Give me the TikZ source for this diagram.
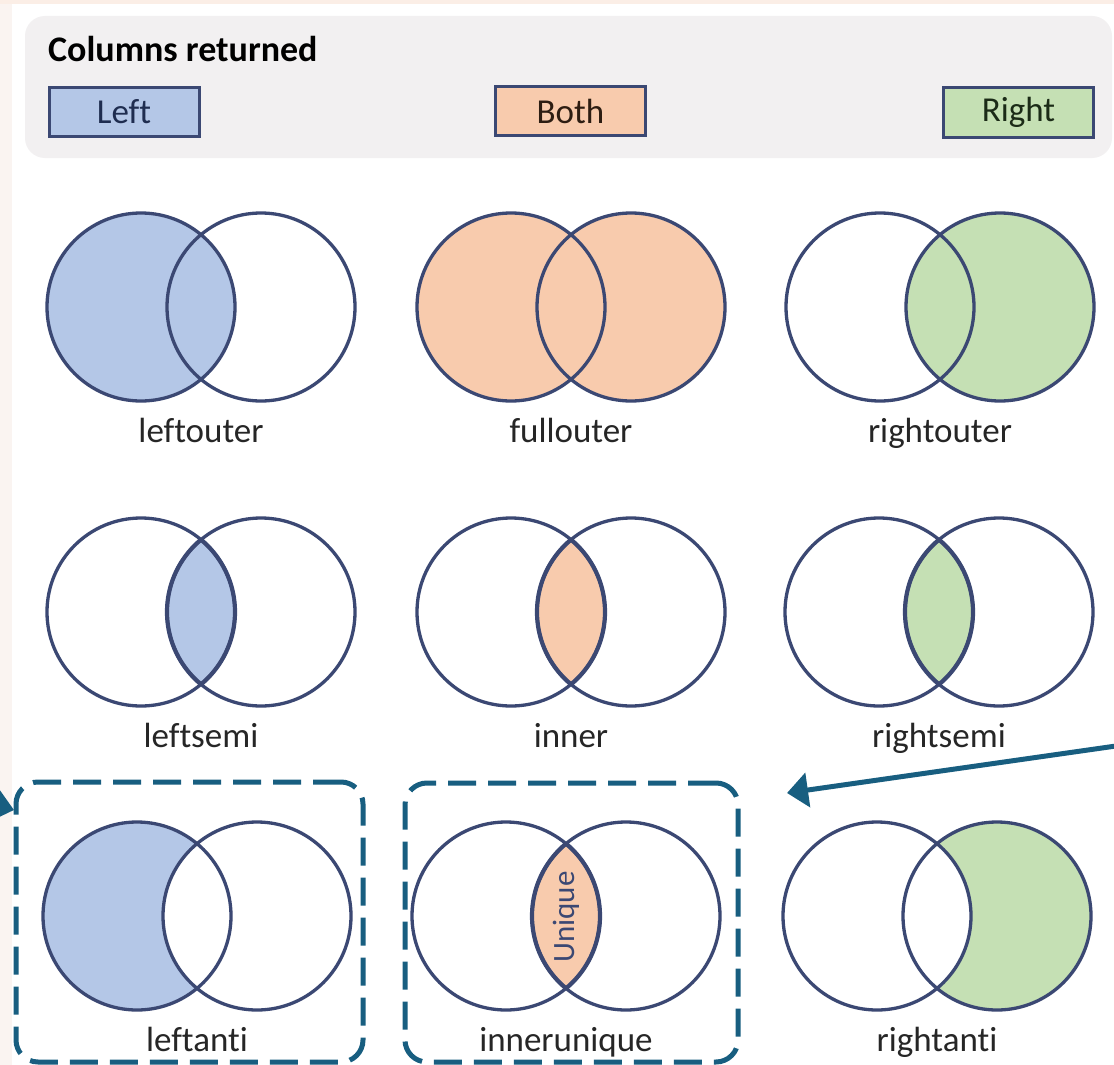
\documentclass[tikz,border=0pt]{standalone}
\usepackage{fontspec}
\setmainfont{Carlito}[Ligatures=NoCommon]
\usetikzlibrary{arrows.meta,calc}

\definecolor{navy}{RGB}{59,72,115}
\definecolor{leftfill}{HTML}{B4C7E7}
\definecolor{bothfill}{HTML}{F8CBAD}
\definecolor{rightfill}{HTML}{C5E0B4}
\definecolor{teal}{RGB}{24,94,128}
\definecolor{panelgray}{HTML}{F2F0F1}
\definecolor{labelgray}{HTML}{262626}
\definecolor{edgetint}{HTML}{FAF4F1}
\definecolor{toptint}{HTML}{FBEEE6}
\definecolor{lefttext}{HTML}{1F2D50}
\definecolor{bothtext}{HTML}{2D1D12}
\definecolor{righttext}{HTML}{1B2B17}

\tikzset{
  vc/.style={circle, draw=navy, line width=3.3pt, minimum size=188pt, inner sep=0pt},
  vlabel/.style={anchor=base, text=labelgray, inner sep=0pt,
    font=\fontsize{35pt}{40pt}\selectfont},
  keybox/.style={draw=navy, line width=3pt, minimum width=150pt, minimum height=49pt,
    inner sep=0pt, font=\fontsize{35pt}{40pt}\selectfont},
  groupbox/.style={draw=teal, line width=5pt, dash pattern=on 28pt off 12pt,
    rounded corners=22pt, inner sep=0pt},
  pointer/.style={draw=teal, line width=5pt,
    -{Triangle[length=21pt,width=34pt]}},
}

% circle regions of a pair centred on the current origin
\newcommand\regionL[1]{\fill[#1] (-60,0) circle (94pt);}
\newcommand\regionR[1]{\fill[#1] (60,0) circle (94pt);}
\newcommand\regionLR[1]{\begin{scope}\clip (-60,0) circle (94pt);
  \fill[#1] (60,0) circle (94pt);\end{scope}}
\newcommand\lensedge{%
  \begin{scope}\clip (-60,0) circle (94pt);
    \draw[navy, line width=4.2pt] (60,0) circle (94pt);\end{scope}
  \begin{scope}\clip (60,0) circle (94pt);
    \draw[navy, line width=4.2pt] (-60,0) circle (94pt);\end{scope}}

% #1 name, #2 x, #3 y, #4 shading, #5 label, #6 extra strokes
\newcommand\joinpair[6]{%
  \begin{scope}[shift={(#2,#3)}]
    #4
    \node[vc] (#1-a) at (-60,0) {};
    \node[vc] (#1-b) at (60,0) {};
    #6
    \node[vlabel] (#1-t) at (0,135) {#5};
  \end{scope}}

\begin{document}
\begin{tikzpicture}[x=1pt, y=-1pt]
  \useasboundingbox (0,0) rectangle (1114,1065);
  \clip (0,0) rectangle (1114,1065);
  \fill[white] (0,0) rectangle (1114,1065);
  \fill[edgetint] (0,0) rectangle (12,1065);
  \fill[toptint] (0,0) rectangle (1114,4);

  % key panel
  \fill[panelgray, rounded corners=20pt] (25,16) rectangle (1112,158);
  \node[anchor=base west, inner sep=0pt, text=black,
        font=\fontsize{36pt}{40pt}\selectfont\bfseries] (title) at (48,62) {Columns returned};
  \node[keybox, fill=leftfill, text=lefttext] (key-left) at (124,112) {Left};
  \node[keybox, fill=bothfill, text=bothtext] (key-both) at (570.5,111) {Both};
  \node[keybox, fill=rightfill, text=righttext] (key-right) at (1018.5,112.5) {Right};

  % outer joins
  \joinpair{leftouter}{201}{307}{\regionL{leftfill}}{leftouter}{}
  \joinpair{fullouter}{571}{307}{\regionL{bothfill}\regionR{bothfill}}{fullouter}{}
  \joinpair{rightouter}{940}{307}{\regionR{rightfill}}{rightouter}{}

  % semi and inner joins
  \joinpair{leftsemi}{201}{612}{\regionLR{leftfill}}{leftsemi}{\lensedge}
  \joinpair{inner}{571}{612}{\regionLR{bothfill}}{inner}{\lensedge}
  \joinpair{rightsemi}{939}{612}{\regionLR{rightfill}}{rightsemi}{\lensedge}

  % anti and unique joins
  \joinpair{leftanti}{197}{916}{\regionL{leftfill}\regionLR{white}}{leftanti}{}
  \joinpair{innerunique}{566}{916}{\regionLR{bothfill}}{innerunique}{\lensedge
    \node[rotate=90, text=navy, inner sep=0pt,
          font=\fontsize{31pt}{34pt}\selectfont] (unique) at (0,1) {Unique};}
  \joinpair{rightanti}{937}{916}{\regionR{rightfill}\regionLR{white}}{rightanti}{}

  % highlighted groups
  \node[groupbox, minimum width=347pt, minimum height=280pt] (antibox) at (189.5,922) {};
  \node[groupbox, minimum width=333pt, minimum height=279pt] (uniquebox) at (571.5,922.5) {};

  % pointers
  \coordinate (lp-from) at (-40,796);
  \coordinate (lp-to) at (14,810);
  \draw[pointer] (lp-from) -- (lp-to);
  \coordinate (rp-from) at (1130,744);
  \coordinate (rp-to) at (787,793);
  \draw[pointer] (rp-from) -- (rp-to);
\end{tikzpicture}
\end{document}
